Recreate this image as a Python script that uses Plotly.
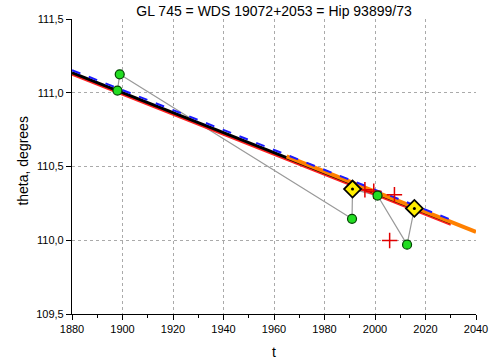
import plotly.graph_objects as go

# Observed positions (green circles)
obs_t = [1898.0, 1898.9, 1990.9, 2001.0, 2012.7]
obs_theta = [111.015, 111.125, 110.145, 110.303, 109.970]

# Reference positions (yellow diamonds)
ref_t = [1991.1, 2015.6]
ref_theta = [110.347, 110.216]

# Other measures (red crosses)
cross_t = [1996.0, 1999.5, 2007.7, 2005.8]
cross_theta = [110.342, 110.332, 110.308, 109.998]

# Connecting path in chronological order
path_t = [1898.0, 1898.9, 1990.9, 1991.1, 2001.0, 2012.7, 2015.6]
path_theta = [111.015, 111.125, 110.145, 110.347, 110.303, 109.970, 110.216]

# Linear trends: ([t_start, t_end], [theta_start, theta_end])
trend_black = ([1880, 2030], [111.137, 110.119])
trend_red = ([1880, 2030], [111.123, 110.106])
trend_blue = ([1880, 2030], [111.153, 110.140])
trend_orange = ([1965, 2040], [110.568, 110.056])

y_ticks = [109.5, 110.0, 110.5, 111.0, 111.5]
y_ticktext = [f"{v:.1f}".replace(".", ",") for v in y_ticks]
x_ticks = list(range(1880, 2041, 20))

fig = go.Figure()

fig.add_trace(go.Scatter(x=path_t, y=path_theta, mode="lines",
                         line=dict(color="#999999", width=1.2), hoverinfo="skip"))
fig.add_trace(go.Scatter(x=trend_red[0], y=trend_red[1], mode="lines",
                         line=dict(color="#ff2020", width=2.2)))
fig.add_trace(go.Scatter(x=trend_black[0], y=trend_black[1], mode="lines",
                         line=dict(color="black", width=3)))
fig.add_trace(go.Scatter(x=trend_orange[0], y=trend_orange[1], mode="lines",
                         line=dict(color="#ff8000", width=4)))
fig.add_trace(go.Scatter(x=trend_blue[0], y=trend_blue[1], mode="lines",
                         line=dict(color="#1a1aff", width=2, dash="dash")))
fig.add_trace(go.Scatter(x=cross_t, y=cross_theta, mode="markers",
                         marker=dict(symbol="cross-thin", size=11,
                                     line=dict(color="#e00000", width=1.5))))
fig.add_trace(go.Scatter(x=obs_t, y=obs_theta, mode="markers",
                         marker=dict(symbol="circle", size=9, color="#22dd22",
                                     line=dict(color="#004400", width=1.2))))
fig.add_trace(go.Scatter(x=ref_t, y=ref_theta, mode="markers",
                         marker=dict(symbol="diamond", size=13, color="#ffee00",
                                     line=dict(color="black", width=1.8))))
fig.add_trace(go.Scatter(x=ref_t, y=ref_theta, mode="markers",
                         marker=dict(symbol="circle", size=3, color="black")))

fig.update_layout(
    width=492, height=363,
    margin=dict(l=72, r=16, t=19, b=49, autoexpand=False),
    paper_bgcolor="white", plot_bgcolor="white",
    showlegend=False,
    font=dict(family="Liberation Sans, Arial, sans-serif", color="black", size=11),
    title=dict(text="GL 745 = WDS 19072+2053 = Hip 93899/73",
               x=274 / 492, xanchor="center", y=1 - 11 / 363, yanchor="middle",
               font=dict(size=14)),
    annotations=[
        dict(text="t", xref="paper", yref="paper", x=0.5, y=0,
             xanchor="center", yanchor="middle", yshift=-38,
             showarrow=False, font=dict(size=14)),
        dict(text="theta, degrees", xref="paper", yref="paper", x=0, y=0.52,
             xanchor="center", yanchor="middle", xshift=-49, textangle=-90,
             showarrow=False, font=dict(size=14)),
    ],
)
fig.update_xaxes(
    range=[1880, 2040], tickvals=x_ticks, ticks="outside", ticklen=5,
    tickwidth=1, tickcolor="black", showline=True, linecolor="black",
    linewidth=1.2, showgrid=True, gridcolor="#aaaaaa", griddash="dot",
    gridwidth=1, zeroline=False, automargin=False,
    minor=dict(dtick=10, ticks="outside", ticklen=3, tickcolor="black",
               showgrid=False),
)
fig.update_yaxes(
    range=[109.5, 111.5], tickvals=y_ticks, ticktext=y_ticktext,
    ticks="outside", ticklen=5, tickwidth=1, tickcolor="black",
    showline=True, linecolor="black", linewidth=1.2, showgrid=True,
    gridcolor="#aaaaaa", griddash="dot", gridwidth=1, zeroline=False,
    automargin=False,
)

fig.write_html("out.html")
